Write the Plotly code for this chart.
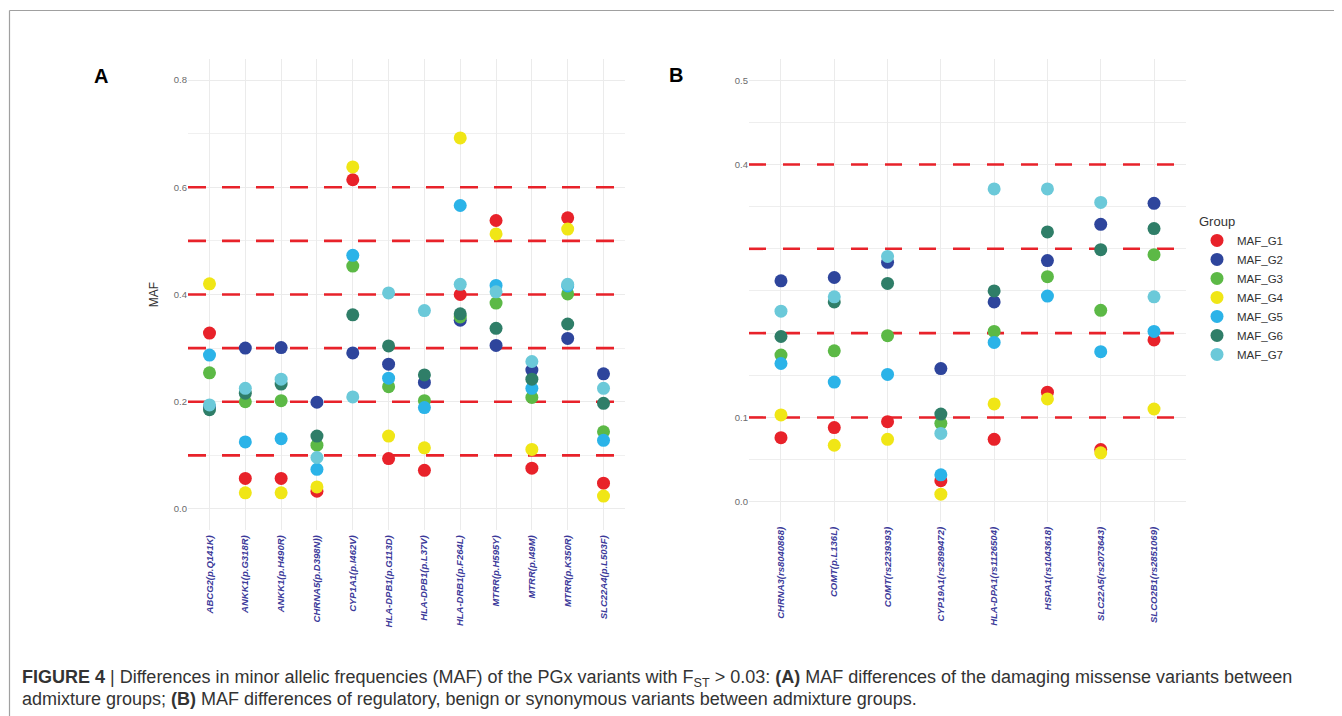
import plotly.graph_objects as go

W, H = 1342, 716
OFF = 8  # page body margin

groups = ["MAF_G1", "MAF_G2", "MAF_G3", "MAF_G4", "MAF_G5", "MAF_G6", "MAF_G7"]
colors = ["#E8222A", "#2E459C", "#5CB946", "#F0E616", "#2BB3E8", "#2F7E68", "#6BC9D9"]

# Panel A: damaging missense variants
cats_a = ["ABCG2(p.Q141K)", "ANKK1(p.G318R)", "ANKK1(p.H490R)", "CHRNA5(p.D398N))",
          "CYP1A1(p.I462V)", "HLA-DPB1(p.G113D)", "HLA-DPB1(p.L37V)", "HLA-DRB1(p.F264L)",
          "MTRR(p.H595Y)", "MTRR(p.I49M)", "MTRR(p.K350R)", "SLC22A4(p.L503F)"]
a_g1 = [0.328, 0.057, 0.057, 0.033, 0.614, 0.094, 0.072, 0.400, 0.538, 0.076, 0.543, 0.048]
a_g2 = [0.190, 0.300, 0.301, 0.199, 0.291, 0.270, 0.236, 0.352, 0.305, 0.259, 0.318, 0.252]
a_g3 = [0.254, 0.200, 0.202, 0.119, 0.453, 0.228, 0.202, 0.358, 0.384, 0.208, 0.401, 0.144]
a_g4 = [0.420, 0.030, 0.030, 0.041, 0.638, 0.136, 0.114, 0.692, 0.513, 0.111, 0.522, 0.024]
a_g5 = [0.287, 0.125, 0.131, 0.074, 0.473, 0.244, 0.189, 0.566, 0.417, 0.225, 0.416, 0.128]
a_g6 = [0.185, 0.216, 0.233, 0.136, 0.362, 0.304, 0.250, 0.364, 0.337, 0.242, 0.345, 0.197]
a_g7 = [0.194, 0.225, 0.242, 0.096, 0.209, 0.403, 0.370, 0.419, 0.405, 0.275, 0.419, 0.225]
vals_a = [a_g1, a_g2, a_g3, a_g4, a_g5, a_g6, a_g7]

# Panel B: regulatory, benign or synonymous variants
cats_b = ["CHRNA3(rs8040868)", "COMT(p.L136L)", "COMT(rs2239393)", "CYP19A1(rs2899472)",
          "HLA-DPA1(rs1126504)", "HSPA1(rs1043618)", "SLC22A5(rs2073643)", "SLCO2B1(rs2851069)"]
b_g1 = [0.076, 0.088, 0.095, 0.025, 0.074, 0.130, 0.062, 0.192]
b_g2 = [0.262, 0.266, 0.284, 0.158, 0.237, 0.286, 0.329, 0.354]
b_g3 = [0.174, 0.179, 0.197, 0.093, 0.202, 0.267, 0.227, 0.293]
b_g4 = [0.103, 0.067, 0.074, 0.009, 0.116, 0.122, 0.058, 0.110]
b_g5 = [0.164, 0.142, 0.151, 0.032, 0.189, 0.244, 0.178, 0.202]
b_g6 = [0.196, 0.237, 0.259, 0.104, 0.250, 0.320, 0.299, 0.324]
b_g7 = [0.226, 0.243, 0.291, 0.081, 0.371, 0.371, 0.355, 0.243]
vals_b = [b_g1, b_g2, b_g3, b_g4, b_g5, b_g6, b_g7]

thr_a = [0.1, 0.2, 0.3, 0.4, 0.5, 0.6]
thr_b = [0.1, 0.2, 0.3, 0.4]

ticks_a = [0.0, 0.2, 0.4, 0.6, 0.8]
ticks_b = [0.0, 0.1, 0.4, 0.5]

caption_1 = ("<b>FIGURE 4</b> | Differences in minor allelic frequencies (MAF) of the PGx variants "
             "with F<sub>ST</sub> > 0.03: <b>(A)</b> MAF differences of the damaging missense variants between")
caption_2 = ("admixture groups; <b>(B)</b> MAF differences of regulatory, benign or synonymous variants "
             "between admixture groups.")

FONT = "Liberation Sans, Arial, sans-serif"
XPAD = 0.6


def px_x(p):
    return (p - OFF) / W


def px_y(p):
    return 1 - (p - OFF) / H


pos_a = list(range(len(cats_a)))
pos_b = list(range(len(cats_b)))
range_a = [-XPAD, len(cats_a) - 1 + XPAD]
range_b = [-XPAD, len(cats_b) - 1 + XPAD]

fig = go.Figure()

# dashed threshold lines (drawn first, under the points, above the grid)
for t in thr_a:
    fig.add_trace(go.Scatter(x=range_a, y=[t, t], mode="lines", showlegend=False,
                             hoverinfo="skip", line=dict(color="#E8222A", width=2.6,
                                                         dash="18px,16px"),
                             xaxis="x", yaxis="y"))
for t in thr_b:
    fig.add_trace(go.Scatter(x=range_b, y=[t, t], mode="lines", showlegend=False,
                             hoverinfo="skip", line=dict(color="#E8222A", width=2.6,
                                                         dash="17px,17px"),
                             xaxis="x2", yaxis="y2"))

for g, c, va, vb in zip(groups, colors, vals_a, vals_b):
    fig.add_trace(go.Scatter(x=pos_a, y=va, mode="markers", name=g, legendgroup=g,
                             text=cats_a, hovertemplate="%{text}: %{y}",
                             marker=dict(color=c, size=13, line=dict(width=0)),
                             xaxis="x", yaxis="y"))
    fig.add_trace(go.Scatter(x=pos_b, y=vb, mode="markers", name=g, legendgroup=g,
                             showlegend=False, text=cats_b, hovertemplate="%{text}: %{y}",
                             marker=dict(color=c, size=13, line=dict(width=0)),
                             xaxis="x2", yaxis="y2"))

shapes = [
    # figure frame (top and left edges visible)
    dict(type="line", xref="paper", yref="paper", x0=px_x(9.5), x1=1.0,
         y0=px_y(10.5), y1=px_y(10.5), line=dict(color="#a0a0a0", width=1.2), layer="below"),
    dict(type="line", xref="paper", yref="paper", x0=px_x(9.5), x1=px_x(9.5),
         y0=0.0, y1=px_y(10.5), line=dict(color="#a0a0a0", width=1.2), layer="below"),
]

tickfont_x = dict(family=FONT, size=9.5, color="#3C3A9A", style="italic", weight="bold")
tickfont_y = dict(family=FONT, size=9.5, color="#6b6b6b")
grid = "#EBEBEB"

fig.update_layout(
    width=W, height=H,
    margin=dict(l=0, r=0, t=0, b=0),
    paper_bgcolor="white", plot_bgcolor="white",
    showlegend=True,
    hovermode="closest",
    xaxis=dict(domain=[px_x(188), px_x(625)], range=range_a, tickvals=pos_a, ticktext=cats_a,
               tickangle=-90, tickfont=tickfont_x,
               showgrid=True, gridcolor=grid, gridwidth=1.3, zeroline=False, showline=False,
               ticks="", ticklabelstandoff=2, anchor="y"),
    yaxis=dict(domain=[px_y(530.4), px_y(58.6)], range=[-0.04, 0.84], tickvals=ticks_a,
               tickformat=".1f", tickfont=tickfont_y, showgrid=True, gridcolor=grid,
               gridwidth=1.3, zeroline=False, showline=False, ticks="",
               minor=dict(dtick=0.1, tick0=0, showgrid=True, gridcolor="#F0F0F0", gridwidth=1),
               title=dict(text="MAF", font=dict(family=FONT, size=12, color="#333333"),
                          standoff=12),
               anchor="x"),
    xaxis2=dict(domain=[px_x(749), px_x(1186)], range=range_b, tickvals=pos_b, ticktext=cats_b,
                tickangle=-90, tickfont=tickfont_x,
                showgrid=True, gridcolor=grid, gridwidth=1.3, zeroline=False, showline=False,
                ticks="", ticklabelstandoff=2, anchor="y2"),
    yaxis2=dict(domain=[px_y(522), px_y(59.1)], range=[-0.024, 0.525], tickvals=ticks_b,
                tickformat=".1f", tickfont=tickfont_y, showgrid=True, gridcolor=grid,
                gridwidth=1.3, zeroline=False, showline=False, ticks="",
                minor=dict(dtick=0.05, tick0=0, showgrid=True, gridcolor="#EEEEEE", gridwidth=1.1),
                anchor="x2"),
    legend=dict(x=px_x(1197), y=px_y(209), xanchor="left", yanchor="top",
                title=dict(text="Group", font=dict(family=FONT, size=13, color="#333333")),
                font=dict(family=FONT, size=11.5, color="#333333"),
                bgcolor="rgba(0,0,0,0)", itemwidth=30, tracegroupgap=0),
    shapes=shapes,
    annotations=[
        dict(text="<b>A</b>", x=px_x(101), y=px_y(76), xref="paper", yref="paper",
             xanchor="center", yanchor="middle",
             showarrow=False, font=dict(family=FONT, size=20, color="black")),
        dict(text="<b>B</b>", x=px_x(676), y=px_y(75), xref="paper", yref="paper",
             xanchor="center", yanchor="middle",
             showarrow=False, font=dict(family=FONT, size=20, color="black")),
        dict(text=caption_1, x=px_x(20), y=px_y(678), xref="paper", yref="paper",
             xanchor="left", yanchor="middle", align="left", showarrow=False,
             font=dict(family=FONT, size=18, color="#333333")),
        dict(text=caption_2, x=px_x(20), y=px_y(699), xref="paper", yref="paper",
             xanchor="left", yanchor="middle", align="left", showarrow=False,
             font=dict(family=FONT, size=18, color="#333333")),
    ],
)

fig.write_html("out.html")
